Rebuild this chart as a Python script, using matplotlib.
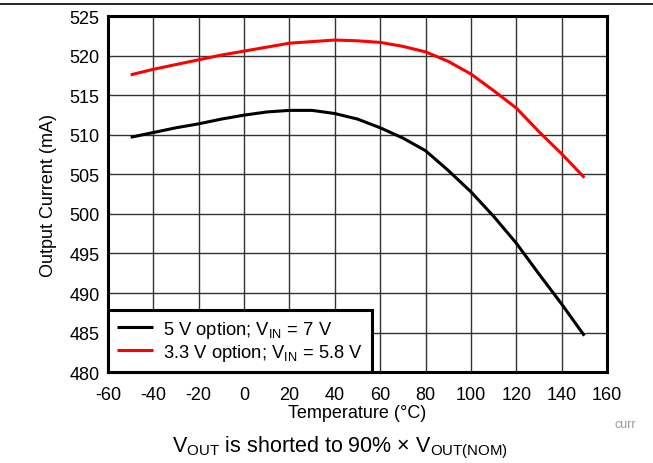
import matplotlib
matplotlib.use("Agg")
import matplotlib.pyplot as plt
from matplotlib.lines import Line2D

plt.rcParams['font.family'] = ['Liberation Sans', 'DejaVu Sans']
plt.rcParams['mathtext.fontset'] = 'custom'
plt.rcParams['mathtext.rm'] = 'Liberation Sans'
plt.rcParams['mathtext.it'] = 'Liberation Sans'
plt.rcParams['axes.unicode_minus'] = False

temps = [-50, -40, -30, -20, -10, 0, 10, 20, 30, 40, 50, 60, 70, 80,
         90, 100, 110, 120, 130, 140, 150]
current_5v = [509.7, 510.3, 510.9, 511.4, 512.0, 512.5, 512.9, 513.1, 513.1,
              512.7, 512.0, 510.9, 509.6, 508.0, 505.5, 502.8, 499.7, 496.3,
              492.4, 488.6, 484.6]
current_3v3 = [517.6, 518.3, 518.9, 519.5, 520.1, 520.6, 521.1, 521.6, 521.8,
               522.0, 521.9, 521.7, 521.2, 520.5, 519.3, 517.7, 515.6, 513.4,
               510.4, 507.6, 504.6]

x_ticks = list(range(-60, 161, 20))
y_ticks = list(range(480, 526, 5))

fig = plt.figure(figsize=(6.53, 4.64), dpi=100)
ax = fig.add_axes([0.1654, 0.196, 0.7642, 0.7667])

ax.plot(temps, current_5v, color='black', lw=2.2, solid_capstyle='butt',
        label=r'5 V option; V$_{\mathrm{IN}}$ = 7 V')
ax.plot(temps, current_3v3, color='#ff0000', lw=2.2, solid_capstyle='butt',
        label=r'3.3 V option; V$_{\mathrm{IN}}$ = 5.8 V')

ax.set_xlim(-60, 160)
ax.set_ylim(480, 525)
ax.set_xticks(x_ticks)
ax.set_yticks(y_ticks)
ax.tick_params(length=0, labelsize=13)
ax.tick_params(axis='x', pad=10)
ax.tick_params(axis='y', pad=6)
ax.grid(True, color='#333333', lw=1.0)
ax.set_axisbelow(True)
for s in ax.spines.values():
    s.set_linewidth(2.2)
    s.set_color('black')

ax.set_xlabel('Temperature (°C)', fontsize=13, labelpad=1)
ax.set_ylabel('Output Current (mA)', fontsize=13, labelpad=9)

leg = ax.legend(loc='lower left', fontsize=13.2, frameon=True, fancybox=False,
                borderaxespad=0, handlelength=1.95, handletextpad=0.55,
                borderpad=0.5, labelspacing=0.12)
leg.get_frame().set_edgecolor('black')
leg.get_frame().set_linewidth(2.2)
leg.get_frame().set_alpha(1)

fig.text(0.521, 0.034, r'V$_{\mathrm{OUT}}$ is shorted to 90% × V$_{\mathrm{OUT(NOM)}}$',
         ha='center', va='center', fontsize=15.5)
fig.text(0.957, 0.084, 'curr', ha='center', va='center', fontsize=9,
         color='#999999')

# rule across the top of the page
fig.add_artist(Line2D([0, 1], [0.989, 0.989], color='black', lw=1.2,
                      transform=fig.transFigure))

fig.savefig('out.png', dpi=100)
